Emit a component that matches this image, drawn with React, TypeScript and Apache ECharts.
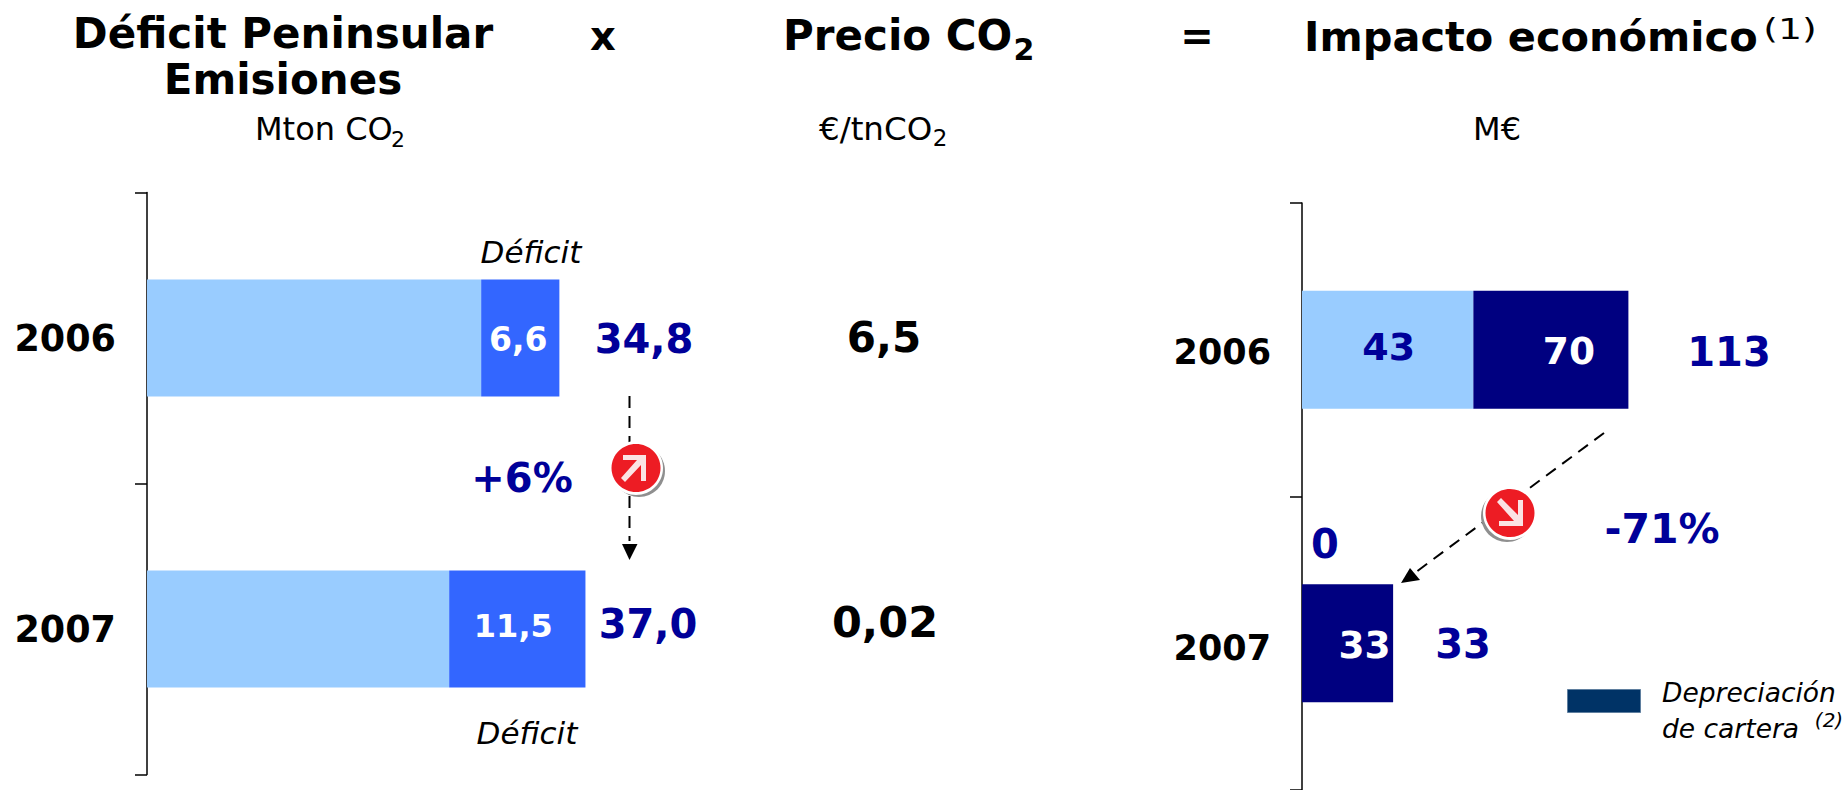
import React, { useEffect, useRef } from "react";
import * as echarts from "echarts";

const years = ["2006", "2007"];
const emisionesBase = [28.2, 25.5];
const deficitValues = [6.6, 11.5];
const deficitLabels = ["6,6", "11,5"];
const emisionesTotals = ["34,8", "37,0"];
const precios = ["6,5", "0,02"];
// Bar lengths as drawn in the picture (the drawn lengths are not proportional to the printed labels)
const impactoLightDrawn = [63, 0];
const impactoDarkDrawn = [57, 33.5];
const impactoLightLabels = ["43", "0"];
const impactoDarkLabels = ["70", "33"];
const impactoTotals = ["113", "33"];

const FONT = "'DejaVu Sans', Verdana, sans-serif";
const BLUE = "#000099";

function txt(text: string, x: number, y: number, size: number, color: string, opts: any = {}) {
  return {
    type: "text",
    x,
    y,
    silent: true,
    scaleX: opts.sx ?? 1,
    style: {
      text,
      fill: color,
      fontFamily: FONT,
      fontSize: size,
      fontWeight: opts.bold ? "bold" : "normal",
      fontStyle: opts.italic ? "italic" : "normal",
      align: opts.align ?? "center",
      verticalAlign: "middle",
    },
  };
}

function badge(cx: number, cy: number, down: boolean) {
  const arrow = down
    ? [[-13, -11], [-9, -15], [8, 2], [8, -13], [13, -13], [13, 13], [-11, 13], [-11, 8], [4, 8]]
    : [[-15, 10], [-11, 14], [5, -3], [5, 13], [10, 13], [10, -13], [-13, -13], [-13, -8], [1, -8]];
  const dx = down ? -3 : 3;
  return [
    { type: "ellipse", silent: true, shape: { cx: cx + dx, cy: cy + 3, rx: 26, ry: 26 }, style: { fill: "#8f8f8f" } },
    { type: "ellipse", silent: true, shape: { cx, cy, rx: 27, ry: 27 }, style: { fill: "#ffffff" } },
    { type: "ellipse", silent: true, shape: { cx, cy, rx: 24.5, ry: 24 }, style: { fill: "#ED1C24" } },
    {
      type: "polygon",
      silent: true,
      shape: { points: arrow.map(([a, b]) => [cx + a, cy + b]) },
      style: { fill: "#FBE3E4" },
    },
  ];
}

function dashed(x1: number, y1: number, x2: number, y2: number) {
  return {
    type: "line",
    silent: true,
    shape: { x1, y1, x2, y2 },
    style: { stroke: "#000", lineWidth: 2, lineDash: [12, 8] },
  };
}

export default function App() {
  const ref = useRef<HTMLDivElement>(null);
  useEffect(() => {
    document.body.style.margin = "0";
    const chart = echarts.init(ref.current!, undefined, { renderer: "svg" });
    const graphic: any[] = [
      txt("Déficit Peninsular", 283, 33, 42, "#000", { bold: true }),
      txt("Emisiones", 283, 79, 42, "#000", { bold: true }),
      txt("x", 603, 36, 40, "#000", { bold: true }),
      txt("Precio CO", 783, 35, 42, "#000", { bold: true, align: "left" }),
      txt("2", 1024, 49, 30, "#000", { bold: true }),
      txt("=", 1197, 36, 40, "#000", { bold: true }),
      txt("Impacto económico", 1304, 36, 41.5, "#000", { bold: true, align: "left" }),
      txt("(1)", 1790, 29, 28, "#000", { sx: 1.35 }),
      txt("Mton CO", 255, 129, 32, "#000", { align: "left" }),
      txt("2", 398, 139, 22, "#000"),
      txt("€/tnCO", 819, 129, 32.5, "#000", { align: "left" }),
      txt("2", 940, 138, 23, "#000"),
      txt("M€", 1497, 129, 32, "#000"),
      txt("Déficit", 531, 252, 31, "#000", { italic: true }),
      txt("Déficit", 527, 733, 31, "#000", { italic: true }),
      txt(emisionesTotals[0], 644, 339, 40, BLUE, { bold: true }),
      txt(emisionesTotals[1], 648, 624, 40, BLUE, { bold: true }),
      txt(precios[0], 884, 337, 42, "#000", { bold: true }),
      txt(precios[1], 885, 622, 43, "#000", { bold: true }),
      txt("+6%", 522, 478, 40, BLUE, { bold: true }),
      dashed(629.5, 396, 629.5, 541),
      {
        type: "polygon",
        silent: true,
        shape: { points: [[622, 544], [637.5, 544], [629.5, 560]] },
        style: { fill: "#000" },
      },
      ...badge(636, 468, false),
      dashed(1604, 433, 1412, 575),
      {
        type: "polygon",
        silent: true,
        shape: { points: [[1401, 583], [1410, 568], [1420, 580]] },
        style: { fill: "#000" },
      },
      ...badge(1510, 513, true),
      txt(impactoTotals[0], 1729, 352, 40, BLUE, { bold: true }),
      txt(impactoTotals[1], 1463, 644, 40, BLUE, { bold: true }),
      txt(impactoLightLabels[1], 1325, 544, 40, BLUE, { bold: true }),
      txt("-71%", 1662, 529, 41, BLUE, { bold: true }),
      {
        type: "rect",
        silent: true,
        shape: { x: 1567.5, y: 689.5, width: 73, height: 23 },
        style: { fill: "#003366", stroke: "#5f7f9f", lineWidth: 1 },
      },
      txt("Depreciación", 1662, 692, 26.5, "#000", { italic: true, align: "left" }),
      txt("de cartera", 1662, 728, 26.5, "#000", { italic: true, align: "left" }),
      txt("(2)", 1829, 720, 20, "#000", { italic: true }),
    ];

    const axisLine = { show: true, lineStyle: { color: "#000", width: 1.5 } };
    const axisTick = { show: true, length: 12, lineStyle: { color: "#000", width: 1.5 } };
    const yLabelLeft = { color: "#000", fontFamily: FONT, fontSize: 36.5, fontWeight: "bold" as const, margin: 31 };
    const rightYearStyle = { color: "#000", fontFamily: FONT, fontSize: 35, fontWeight: "bold" as const };
    const yLabelRight = {
      ...rightYearStyle,
      margin: 31,
      formatter: (v: string) => (v === years[0] ? `{a|${v}}` : `{b|${v}}`),
      rich: {
        a: { ...rightYearStyle, padding: [5, 0, 0, 0] },
        b: { ...rightYearStyle, padding: [9, 0, 0, 0] },
      },
    };
    const inLabel = (text: string, color: string, dx: number, dy: number, size: number) => ({
      show: true,
      position: "inside",
      formatter: text,
      offset: [dx, dy],
      color,
      fontFamily: FONT,
      fontWeight: "bold",
      fontSize: size,
    });

    chart.setOption({
      animation: false,
      grid: [
        { left: 147, top: 192.5, width: 711, height: 582 },
        { left: 1302, top: 203, width: 544, height: 588 },
      ],
      xAxis: [
        { type: "value", gridIndex: 0, min: 0, max: 60, show: false },
        { type: "value", gridIndex: 1, min: 0, max: 200, show: false },
      ],
      yAxis: [
        { type: "category", gridIndex: 0, inverse: true, data: years, axisLine, axisTick, axisLabel: yLabelLeft, splitLine: { show: false } },
        { type: "category", gridIndex: 1, inverse: true, data: years, axisLine, axisTick, axisLabel: yLabelRight, splitLine: { show: false } },
      ],
      series: [
        {
          type: "bar", name: "Emisiones", stack: "a", xAxisIndex: 0, yAxisIndex: 0, barWidth: 117,
          itemStyle: { color: "#99CCFF" }, data: emisionesBase,
        },
        {
          type: "bar", name: "Déficit", stack: "a", xAxisIndex: 0, yAxisIndex: 0, barWidth: 117,
          itemStyle: { color: "#3366FF" },
          data: deficitValues.map((value, i) => ({
            value,
            label: inLabel(deficitLabels[i], "#fff", i === 0 ? -2 : -4, i === 0 ? 1 : -3, i === 0 ? 33 : 32),
          })),
        },
        {
          type: "bar", name: "Resto", stack: "b", xAxisIndex: 1, yAxisIndex: 1, barWidth: 118,
          itemStyle: { color: "#99CCFF" },
          data: impactoLightDrawn.map((value, i) => ({
            value,
            label: i === 0 ? inLabel(impactoLightLabels[i], BLUE, 1, -3, 38) : { show: false },
          })),
        },
        {
          type: "bar", name: "Depreciación de cartera", stack: "b", xAxisIndex: 1, yAxisIndex: 1, barWidth: 118,
          itemStyle: { color: "#000080" },
          data: impactoDarkDrawn.map((value, i) => ({
            value,
            label: inLabel(impactoDarkLabels[i], "#fff", i === 0 ? 18 : 17, i === 0 ? 1 : 2, 37.5),
          })),
        },
      ],
      graphic,
    });
    return () => chart.dispose();
  }, []);
  return <div ref={ref} style={{ width: 1846, height: 790 }} />;
}
